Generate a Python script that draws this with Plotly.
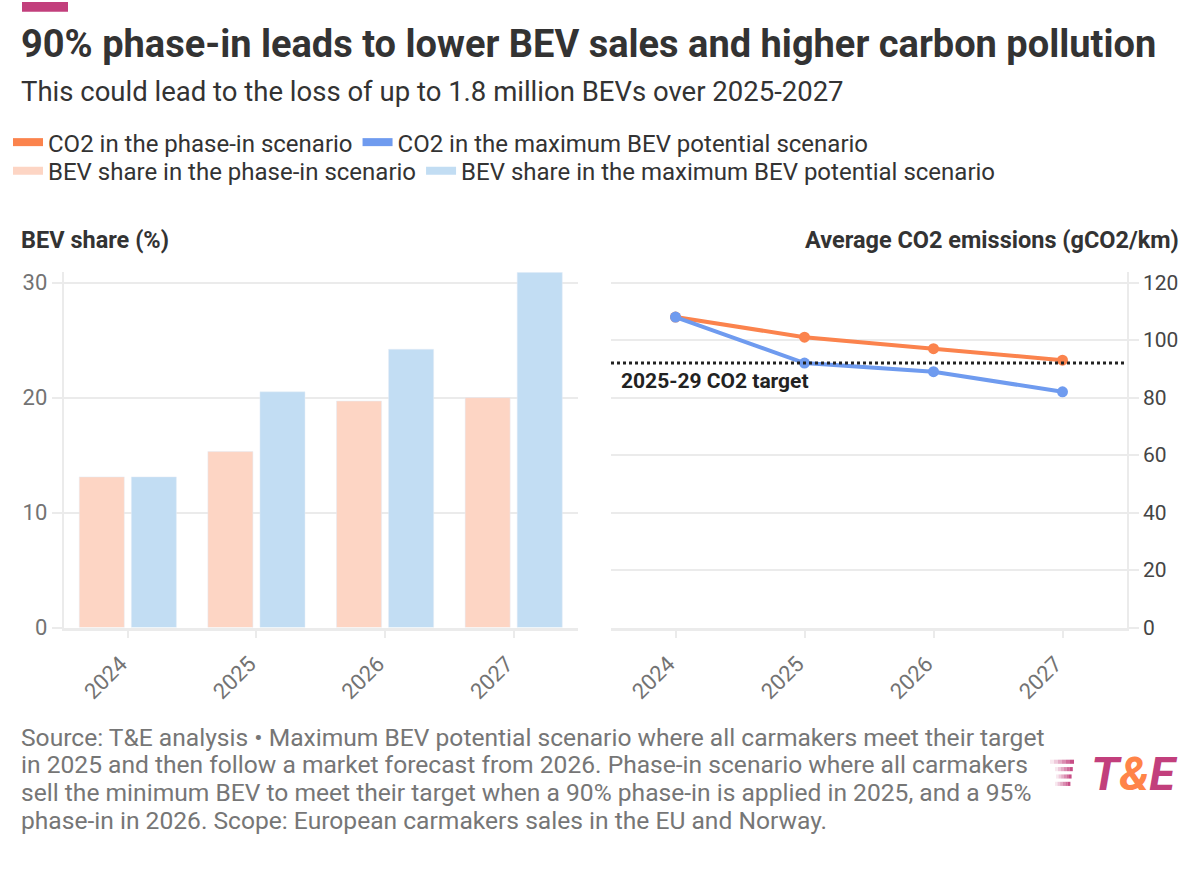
import plotly.graph_objects as go

W, H = 1200, 869

# data
years = ["2024", "2025", "2026", "2027"]
bev_phase_in = [13.1, 15.3, 19.7, 20.0]
bev_max_potential = [13.1, 20.5, 24.2, 30.9]
co2_phase_in = [108, 101, 97, 93]
co2_max_potential = [108, 92, 89, 82]
co2_target = 92

ORANGE = "#fb834d"
BLUE = "#6f9bef"
PINK_LIGHT = "#fdd5c4"
BLUE_LIGHT = "#c2ddf3"
MAGENTA = "#c23f7c"
GRID = "#ebebeb"
FONT = "Roboto"


def px(x):
    return x / W


def py(y):
    return 1 - y / H


fig = go.Figure()

# bars (left panel)
fig.add_trace(go.Bar(x=years, y=bev_phase_in, marker_color=PINK_LIGHT,
                     showlegend=False, xaxis="x", yaxis="y"))
fig.add_trace(go.Bar(x=years, y=bev_max_potential, marker_color=BLUE_LIGHT,
                     showlegend=False, xaxis="x", yaxis="y"))

# lines (right panel)
fig.add_trace(go.Scatter(x=years, y=co2_phase_in, mode="lines+markers",
                         line=dict(color=ORANGE, width=4), marker=dict(size=11),
                         showlegend=False, xaxis="x2", yaxis="y2"))
fig.add_trace(go.Scatter(x=years, y=co2_max_potential, mode="lines+markers",
                         line=dict(color=BLUE, width=4), marker=dict(size=11),
                         showlegend=False, xaxis="x2", yaxis="y2"))

# legend entries (pill swatches)
for name, color, leg in [
        ("CO2 in the phase-in scenario", ORANGE, "legend"),
        ("CO2 in the maximum BEV potential scenario", BLUE, "legend"),
        ("BEV share in the phase-in scenario", PINK_LIGHT, "legend2"),
        ("BEV share in the maximum BEV potential scenario", BLUE_LIGHT, "legend2"),
]:
    fig.add_trace(go.Scatter(x=[None], y=[None], mode="lines", name=name,
                             line=dict(color=color, width=8), legend=leg,
                             xaxis="x2", yaxis="y2"))

tick_font = dict(family=FONT, size=22, color="#737373")
tick_font_right = dict(family=FONT, size=21, color="#454545")
ydom = [py(636.5), py(275)]
legend_font = dict(family=FONT, size=24, color="#333333")
xtick = dict(type="category", range=[-0.5, 3.5], tickangle=-45,
             tickfont=tick_font, ticks="outside", ticklen=8, tickwidth=2,
             tickcolor=GRID, showline=True, linecolor=GRID, linewidth=2.5,
             showgrid=False, ticklabelshift=-7, ticklabelstandoff=4)

fig.update_layout(
    width=W, height=H,
    margin=dict(l=0, r=0, t=0, b=0),
    paper_bgcolor="white", plot_bgcolor="white",
    font=dict(family=FONT, color="#333333"),
    barmode="group", bargap=0.19, bargroupgap=0.135,
    xaxis=dict(domain=[px(63.5), px(578)], **xtick),
    yaxis=dict(domain=ydom, range=[0, 30.9], tickvals=[0, 10, 20, 30],
               tickfont=tick_font, ticks="outside", ticklen=10, tickwidth=2,
               tickcolor=GRID, showgrid=True, gridcolor=GRID, gridwidth=2,
               zeroline=False, showline=True, linecolor=GRID, linewidth=1.5),
    xaxis2=dict(domain=[px(611), px(1127)], anchor="y2", **xtick),
    yaxis2=dict(domain=ydom, anchor="x2", side="right", range=[0, 123.6],
                tickvals=[0, 20, 40, 60, 80, 100, 120], tickfont=tick_font_right,
                ticks="outside", ticklen=10, tickwidth=2, tickcolor=GRID,
                showgrid=True, gridcolor=GRID, gridwidth=2, zeroline=False,
                showline=True, linecolor=GRID, linewidth=1.5),
    legend=dict(orientation="h", x=px(8), y=py(143), xanchor="left",
                yanchor="middle", font=legend_font, itemwidth=30,
                bgcolor="rgba(0,0,0,0)"),
    legend2=dict(orientation="h", x=px(8), y=py(172), xanchor="left",
                 yanchor="middle", font=legend_font, itemwidth=30,
                 bgcolor="rgba(0,0,0,0)"),
)

# target line
fig.add_shape(type="line", xref="x2 domain", yref="y2", x0=0, x1=1,
              y0=co2_target, y1=co2_target,
              line=dict(color="#222222", width=3, dash="dot"))
fig.add_annotation(xref="x2 domain", yref="y2", x=0.015, y=co2_target,
                   yshift=-18, xanchor="left", yanchor="middle",
                   text="<b>2025-29 CO2 target</b>", showarrow=False,
                   font=dict(family=FONT, size=21, color="#222222"))

# texts
texts = [
    (19, 42.5, "<b>90% phase-in leads to lower BEV sales and higher carbon pollution</b>",
     38, "#333333", "left"),
    (19, 91, "This could lead to the loss of up to 1.8 million BEVs over 2025-2027",
     27.5, "#333333", "left"),
    (19, 242, "<b>BEV share (%)</b>", 23.5, "#333333", "left"),
    (1181, 242, "<b>Average CO2 emissions (gCO2/km)</b>", 23.5, "#333333", "right"),
]
footer = [
    "Source: T&E analysis • Maximum BEV potential scenario where all carmakers meet their target",
    "in 2025 and then follow a market forecast from 2026. Phase-in scenario where all carmakers",
    "sell the minimum BEV to meet their target when a 90% phase-in is applied in 2025, and a 95%",
    "phase-in in 2026. Scope: European carmakers sales in the EU and Norway.",
]
for i, line in enumerate(footer):
    texts.append((19, 748 + 28.2 * i, line, 24.6, "#767676", "left"))

for x, y, t, size, color, anchor in texts:
    fig.add_annotation(xref="paper", yref="paper", x=px(x), y=py(y), text=t,
                       xanchor=anchor, yanchor="middle", showarrow=False,
                       font=dict(family=FONT, size=size, color=color))

# branding: top bar and T&E logo
fig.add_shape(type="rect", xref="paper", yref="paper", x0=px(22), x1=px(68),
              y0=py(10), y1=py(0), fillcolor=MAGENTA, line_width=0)
for k, (yy, x_start) in enumerate([(771, 1050), (778.5, 1055), (786, 1056), (793.5, 1055)]):
    x_end = 1074 - k * 1.2
    seg = (x_end - x_start) / 6
    for s in range(6):
        fig.add_shape(type="rect", xref="paper", yref="paper",
                      x0=px(x_start + s * seg), x1=px(x_start + (s + 1) * seg),
                      y0=py(yy + 4.2), y1=py(yy), fillcolor=MAGENTA,
                      opacity=0.12 + 0.16 * s, line_width=0)
fig.add_annotation(xref="paper", yref="paper", x=px(1180), y=py(785),
                   xanchor="right", yanchor="middle", showarrow=False,
                   text="<b><i>T<span style='color:#ff8448'>&amp;</span>E</i></b>",
                   font=dict(family=FONT, size=47, color=MAGENTA))

# drop the default page margin so the figure sits at the window origin
fig.write_html(
    "out.html",
    config={"displayModeBar": False},
    post_script=(
        "document.body.style.margin = '0';"
        "document.body.style.overflow = 'hidden';"
        "document.documentElement.style.overflow = 'hidden';"
    ),
)
